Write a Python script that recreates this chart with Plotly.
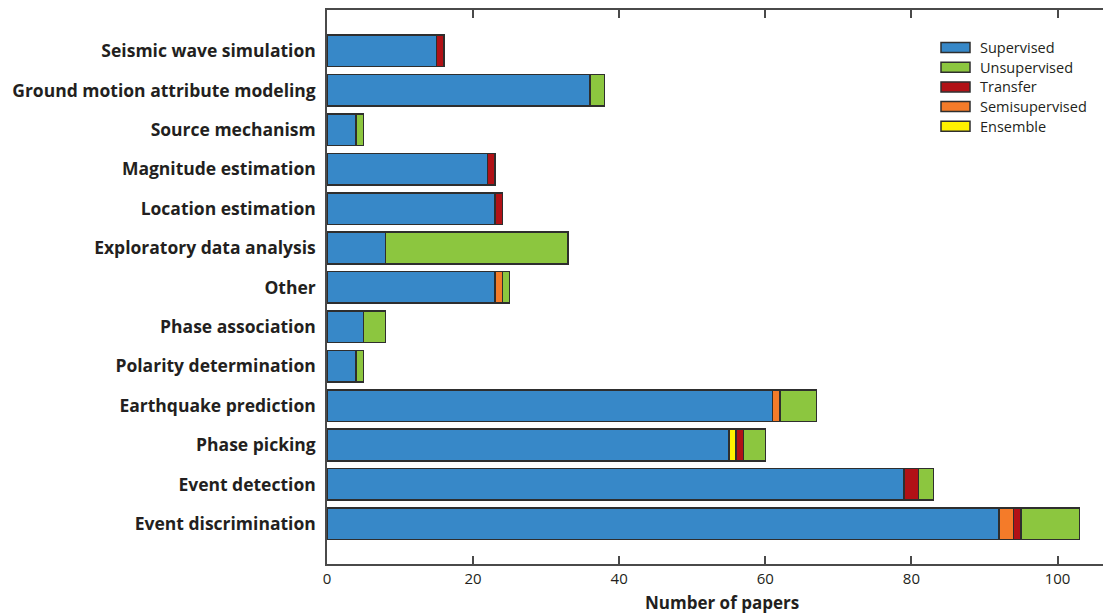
import plotly.graph_objects as go

categories = ["Seismic wave simulation", "Ground motion attribute modeling", "Source mechanism",
              "Magnitude estimation", "Location estimation", "Exploratory data analysis", "Other",
              "Phase association", "Polarity determination", "Earthquake prediction",
              "Phase picking", "Event detection", "Event discrimination"]
supervised     = [15, 36, 4, 22, 23, 8, 23, 5, 4, 61, 55, 79, 92]
ensemble       = [0, 0, 0, 0, 0, 0, 0, 0, 0, 0, 1, 0, 0]
semisupervised = [0, 0, 0, 0, 0, 0, 1, 0, 0, 1, 0, 0, 2]
transfer       = [1, 0, 0, 1, 1, 0, 0, 0, 0, 0, 1, 2, 1]
unsupervised   = [0, 2, 1, 0, 0, 25, 1, 3, 1, 5, 3, 2, 8]

legend_order = ["Supervised", "Unsupervised", "Transfer", "Semisupervised", "Ensemble"]

n = len(categories)
ypos = [n - 1 - i for i in range(n)]

colors = {"Supervised": "#3788C8", "Ensemble": "#FFF200", "Semisupervised": "#F47B29",
          "Transfer": "#B11116", "Unsupervised": "#8CC63F"}
series = [("Supervised", supervised), ("Ensemble", ensemble), ("Semisupervised", semisupervised),
          ("Transfer", transfer), ("Unsupervised", unsupervised)]

W, H = 1103, 613
L, R, T, B = 327, 0, 10, 49
pw, ph = W - L - R, H - T - B

def px(x):
    return (x - L) / pw

def py(y):
    return (H - B - y) / ph

INK = "#231f20"
LINE = "#4a4a4a"

fig = go.Figure()
for name, vals in series:
    fig.add_trace(go.Bar(
        y=ypos, x=vals, name=name, orientation="h",
        marker=dict(color=colors[name], line=dict(color="#2e2e2e", width=1.5)),
        width=0.8, showlegend=False,
    ))

# custom legend (wide rectangles like the reference)
shapes = []
annotations = []
for i, name in enumerate(legend_order):
    cy = 47.5 + i * 19.7
    shapes.append(dict(type="rect", xref="paper", yref="paper",
                       x0=px(941), x1=px(970), y0=py(cy + 5), y1=py(cy - 5),
                       fillcolor=colors[name], line=dict(color="#2e2e2e", width=1.5)))
    annotations.append(dict(xref="paper", yref="paper", x=px(978), y=py(cy),
                            xanchor="left", yanchor="middle", showarrow=False,
                            text=name, font=dict(family="Open Sans", size=14.5, color=INK)))

annotations.append(dict(xref="paper", yref="paper", x=px(722), y=py(602),
                        xanchor="center", yanchor="middle", showarrow=False,
                        text="<b>Number of papers</b>",
                        font=dict(family="Open Sans", size=17, color=INK)))

fig.update_layout(
    barmode="stack",
    width=W, height=H,
    margin=dict(l=L, r=R, t=T, b=B, autoexpand=False),
    plot_bgcolor="white", paper_bgcolor="white",
    font=dict(family="Open Sans", color=INK),
    showlegend=False,
    shapes=shapes, annotations=annotations,
)
fig.update_xaxes(
    range=[0, pw / 7.305], tickvals=[0, 20, 40, 60, 80, 100],
    ticks="inside", ticklen=8, tickwidth=1.5, tickcolor=LINE,
    showline=True, linecolor=LINE, linewidth=1.5, mirror="ticks",
    showgrid=False, zeroline=False, automargin=False,
    tickfont=dict(size=15, color=INK),
)
fig.update_yaxes(
    range=[-1.02, n - 1 + 1.04], tickvals=ypos, ticktext=categories,
    showline=True, linecolor=LINE, linewidth=1.5,
    showgrid=False, zeroline=False, ticks="", automargin=False,
    tickfont=dict(size=17.5, weight="bold", color=INK),
    ticklabelstandoff=6,
)

fig.write_html("out.html",
               config={"displayModeBar": False},
               post_script="document.body.style.margin='0px';document.body.style.overflow='hidden';")
